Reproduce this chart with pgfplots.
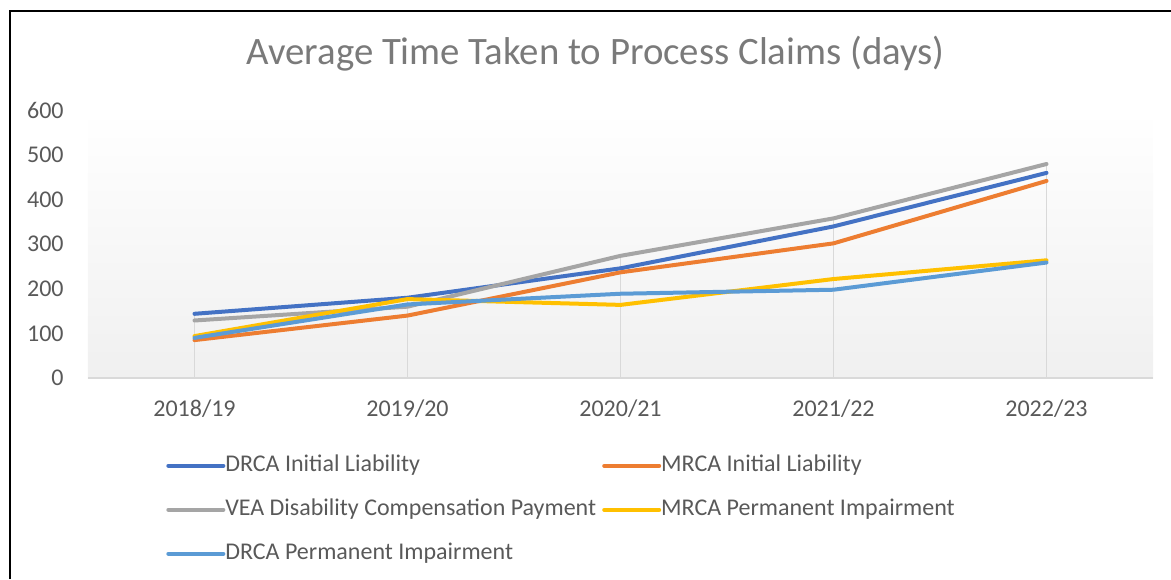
\documentclass[border=0pt]{standalone}
\usepackage{pgfplots}
\pgfplotsset{compat=1.18}
\usepackage{fontspec}
\setmainfont{Carlito}

\definecolor{cDRCAIL}{HTML}{4472C4}
\definecolor{cMRCAIL}{HTML}{ED7D31}
\definecolor{cVEA}{HTML}{A5A5A5}
\definecolor{cMRCAPI}{HTML}{FFC000}
\definecolor{cDRCAPI}{HTML}{5B9BD5}
\definecolor{labelgray}{HTML}{595959}
\definecolor{titlegray}{HTML}{7A7A7A}
\definecolor{axisgray}{HTML}{D9D9D9}
\definecolor{bggray}{HTML}{F0F0F0}

\begin{document}
\begin{tikzpicture}
\path[use as bounding box] (0,0) rectangle (585.5pt,289.5pt);
\draw[line width=1pt] (5.1pt,0pt) -- (5.1pt,284pt) -- (585.5pt,284pt);
\node[anchor=base, font=\fontsize{19.4}{23}\selectfont, text=titlegray, inner sep=0pt]
  at (297.75pt,257pt) {Average Time Taken to Process Claims (days)};
\begin{axis}[
    at={(44pt,100.5pt)}, anchor=south west,
    scale only axis, width=532.5pt, height=133.75pt,
    xmin=-0.5, xmax=4.5, ymin=0, ymax=600,
    xtick={0,...,4},
    xticklabels={2018/19,2019/20,2020/21,2021/22,2022/23},
    ytick={0,100,...,600},
    axis x line=bottom, axis y line=left,
    x axis line style={-, draw=axisgray, line width=1pt},
    y axis line style={draw=none},
    major tick length=0pt, tick style={draw=none},
    axis background/.style={top color=white, bottom color=bggray},
    /pgf/number format/assume math mode=true,
    ticklabel style={font=\fontsize{12}{14}\selectfont, text=labelgray, inner sep=0pt},
    xticklabel style={anchor=base, yshift=-19pt},
    yticklabel style={anchor=east, xshift=-12pt},
    every axis plot/.append style={line width=2pt, line cap=round, line join=round},
    legend columns=2,
    legend cell align=left,
    legend image code/.code={\draw[#1] (0pt,0pt) -- (27.5pt,0pt);},
    legend style={at={(0.0732,-0.2856)}, anchor=north west,
        draw=none, fill=none, inner sep=0pt,
        column sep=0pt, row sep=11pt,
        /tikz/every even column/.append style={column sep=3pt},
        font=\fontsize{12}{14}\selectfont, text=labelgray,
        nodes={inner sep=0pt, text height=8.5pt, text depth=2.5pt}},
]
% drop lines to the highest value in each year
\addplot[forget plot, ycomb, draw=axisgray, line width=0.7pt, line cap=butt]
  coordinates {(0,144) (1,180) (2,274) (3,358) (4,480)};

\addplot[cDRCAIL] coordinates {(0,144) (1,180) (2,246) (3,340) (4,460)};
\addlegendentry{DRCA Initial Liability}
\addplot[cMRCAIL] coordinates {(0,85) (1,140) (2,237) (3,302) (4,442)};
\addlegendentry{MRCA Initial Liability}
\addplot[cVEA] coordinates {(0,129) (1,160) (2,274) (3,358) (4,480)};
\addlegendentry{VEA Disability Compensation Payment}
\addplot[cMRCAPI] coordinates {(0,94) (1,177) (2,164) (3,222) (4,264)};
\addlegendentry{MRCA Permanent Impairment}
\addplot[cDRCAPI] coordinates {(0,90) (1,165) (2,189) (3,198) (4,259)};
\addlegendentry{DRCA Permanent Impairment}
\end{axis}
\end{tikzpicture}
\end{document}
